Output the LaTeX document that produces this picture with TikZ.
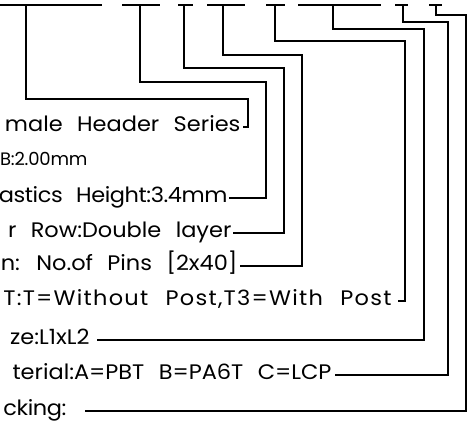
\documentclass[tikz,border=0pt]{standalone}
\usepackage{fontspec}
\newfontfamily\cadfont[FakeStretch=1.07,WordSpace=2.4]{Poppins}
\newfontfamily\cadsmall{Poppins}
\usetikzlibrary{calc}
\begin{document}
\begin{tikzpicture}[x=1pt,y=-1pt,line width=1.1pt,
  lbl/.style={anchor=base east,inner sep=0pt,font=\cadfont\fontsize{21}{21}\selectfont},
  small/.style={font=\cadsmall\fontsize{18}{18}\selectfont\addfontfeature{LetterSpace=-1}},
  spread/.style={font=\cadfont\fontsize{21}{21}\selectfont\addfontfeature{LetterSpace=6}},
  tight/.style={font=\cadfont\fontsize{21}{21}\selectfont\addfontfeature{LetterSpace=-2}}]
  \useasboundingbox (0,0) rectangle (473,421);
  % blanks of the part number
  \foreach \a/\b in {0/102,122/160,178/193,207/245,266/285,298/381,395/408,429/442}
    \draw (\a,5) -- (\b,5);
  % taps under the blanks
  \foreach \i/\x in {1/26,3/140,4/184,5/223,6/275,7/333,8/403,9/436}
    \coordinate (tap\i) at (\x,5);
  % texts
  \node[lbl] (r1) at (241,131) {male Header Series};
  \node[lbl,small] (r2) at (88,165) {B:2.00mm};
  \node[lbl,tight] (r3) at (228,202) {astics Height:3.4mm};
  \node[lbl] (r4) at (232,237) {r Row:Double layer};
  \node[lbl] (r5) at (238,270) {n: No.of Pins [2x40]};
  \node[lbl,spread] (r6) at (392,305) {T:T=Without Post,T3=With Post};
  \node[lbl] (r7) at (90,344) {ze:L1xL2};
  \node[lbl] (r8) at (332,379) {terial:A=PBT B=PA6T C=LCP};
  \node[lbl,tight] (r9) at (67,415) {cking:};
  % leaders
  \foreach \i/\lv/\rx/\g in {1/99/248/2,3/82/266/1,4/68/284/1,5/55/302/2,
                             6/41/405/6,7/29/424/7,8/22/448/3,9/15/466/18}
    \draw (tap\i) |- (\rx,\lv) |- ($(r\i.base east)+(\g,-4)$);
\end{tikzpicture}
\end{document}
